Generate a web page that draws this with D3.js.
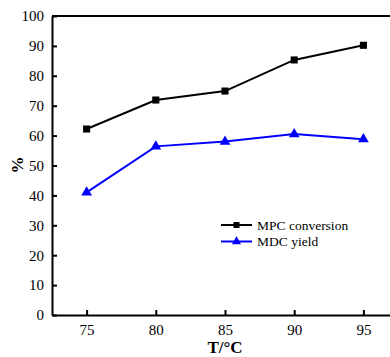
<!DOCTYPE html>
<html><head><meta charset="utf-8">
<script src="https://cdn.jsdelivr.net/npm/d3@7"></script>
<style>body{margin:0;background:#fff}svg{display:block}</style>
</head><body><svg id="c" width="390" height="357"></svg>
<script>
const temps = [75, 80, 85, 90, 95];
const mpcConversion = [62.2, 71.9, 74.9, 85.3, 90.2];
const mdcYield = [41.0, 56.4, 58.0, 60.5, 58.8];
const yTicks = [0,10,20,30,40,50,60,70,80,90,100];
const xTicks = [75,80,85,90,95];
const FONT = "Liberation Serif";

const svg = d3.select("#c");
const L = 52, T = 16, B = 315, R = 398;
const x = d3.scaleLinear().domain([72.5, 97.5]).range([L, R]);
const y = d3.scaleLinear().domain([0, 100]).range([B, T]);

svg.append("line").attr("x1", L).attr("x2", 390).attr("y1", T).attr("y2", T).attr("stroke","#000").attr("stroke-width",2);

const xAxis = svg.append("g").attr("transform",`translate(0,${B})`)
  .call(d3.axisBottom(x).tickValues(xTicks).tickSizeInner(-5).tickSizeOuter(0).tickPadding(9));
const yAxis = svg.append("g").attr("transform",`translate(${L},0)`)
  .call(d3.axisLeft(y).tickValues(yTicks).tickSizeInner(-5).tickSizeOuter(0).tickPadding(8));
[xAxis, yAxis].forEach(g => {
  g.style("font-family", FONT);
  g.select(".domain").attr("stroke-width", 2).attr("stroke","#000");
  g.selectAll(".tick line").attr("stroke-width", 2).attr("stroke","#000");
  g.selectAll(".tick text").attr("font-size", 15).attr("fill","#000").style("font-family", FONT);
});

const line = d3.line().x((d,i)=>x(temps[i])).y(d=>y(d));
svg.append("path").datum(mpcConversion).attr("d", line).attr("fill","none").attr("stroke","#000").attr("stroke-width",2);
svg.append("path").datum(mdcYield).attr("d", line).attr("fill","none").attr("stroke","#0000ff").attr("stroke-width",2);

const sq = d3.symbol().type(d3.symbolSquare).size(50);
const tri = d3.symbol().type(d3.symbolTriangle).size(50);
svg.selectAll(".m1").data(mpcConversion).enter().append("path")
  .attr("d", sq).attr("transform",(d,i)=>`translate(${x(temps[i])},${y(d)})`).attr("fill","#000");
svg.selectAll(".m2").data(mdcYield).enter().append("path")
  .attr("d", tri).attr("transform",(d,i)=>`translate(${x(temps[i])},${y(d)})`).attr("fill","#0000ff");

const leg = [{name:"MPC conversion", c:"#000"},{name:"MDC yield", c:"#0000ff"}];
leg.forEach((d,i)=>{
  const yy = 225 + i*16.5;
  svg.append("line").attr("x1",221).attr("x2",252).attr("y1",yy).attr("y2",yy).attr("stroke",d.c).attr("stroke-width",2);
  svg.append("path").attr("d", d3.symbol().type(i? d3.symbolTriangle : d3.symbolSquare).size(36)).attr("transform",`translate(236.5,${yy})`).attr("fill",d.c);
  svg.append("text").attr("x",257).attr("y",yy+4.5).attr("font-size",13.5).style("font-family",FONT).text(d.name);
});

svg.append("text").attr("x", 225).attr("y", 353).attr("text-anchor","middle").attr("font-size",17).attr("font-weight","bold").style("font-family",FONT).text("T/°C");
svg.append("text").attr("transform","translate(23,165) rotate(-90)").attr("text-anchor","middle").attr("font-size",17).attr("font-weight","bold").style("font-family",FONT).text("%");
</script></body></html>
